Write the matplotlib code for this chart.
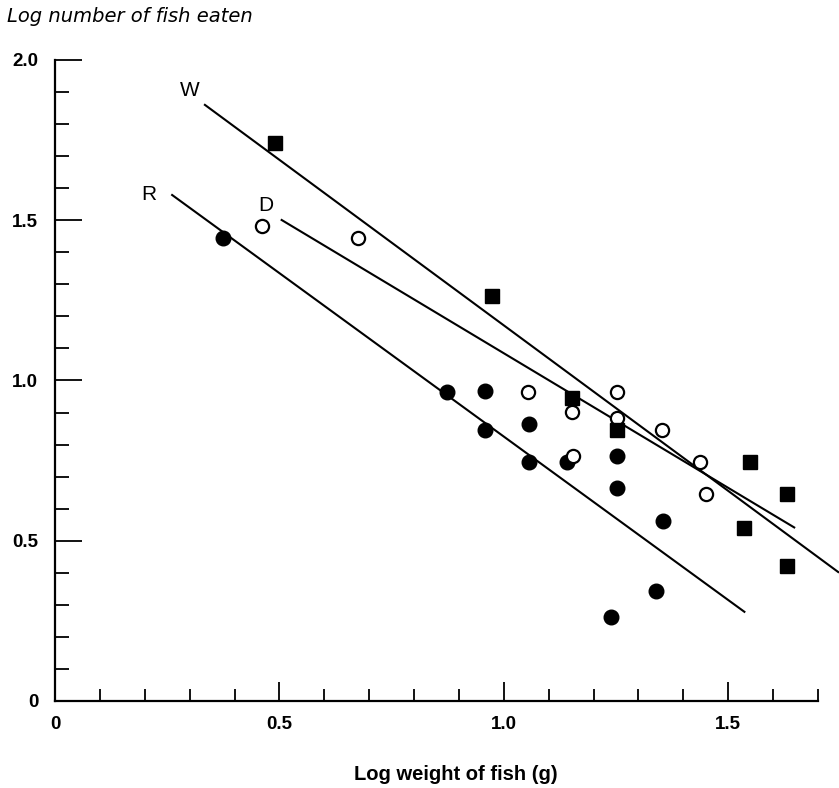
import numpy as np
import matplotlib
matplotlib.use("Agg")
import matplotlib.pyplot as plt

plt.rcParams['font.family'] = ['Liberation Sans', 'DejaVu Sans']

# R (filled circles)
r_x = [0.375, 0.873, 0.957, 0.957, 1.055, 1.055, 1.140, 1.253, 1.253, 1.354, 1.338, 1.239]
r_y = [1.444, 0.965, 0.967, 0.846, 0.864, 0.747, 0.745, 0.764, 0.666, 0.563, 0.344, 0.263]

# D (open circles)
d_x = [0.461, 0.676, 1.053, 1.153, 1.154, 1.253, 1.253, 1.353, 1.437, 1.451]
d_y = [1.482, 1.446, 0.965, 0.903, 0.764, 0.965, 0.882, 0.846, 0.745, 0.646]

# W (filled squares)
w_x = [0.490, 0.973, 1.153, 1.253, 1.549, 1.632, 1.536, 1.630]
w_y = [1.742, 1.263, 0.944, 0.846, 0.745, 0.645, 0.541, 0.422]

# fitted lines: name, slope, intercept, x start, x end, label position
fit_names = ["R", "D", "W"]
fit_slope = [-1.020, -0.840, -1.033]
fit_icpt = [1.845, 1.925, 2.205]
fit_x0 = [0.261, 0.505, 0.334]
fit_x1 = [1.536, 1.647, 1.745]
label_x = [0.210, 0.470, 0.300]
label_y = [1.580, 1.545, 1.905]

fig = plt.figure(figsize=(8.39, 7.88), dpi=100)
ax = fig.add_axes([0.06555, 0.11041, 0.90942, 0.81345])

for name, m, b, xa, xb, lx, ly in zip(fit_names, fit_slope, fit_icpt, fit_x0, fit_x1, label_x, label_y):
    xs = np.array([xa, xb])
    ax.plot(xs, m * xs + b, color="black", lw=1.5, clip_on=False, zorder=2)
    ax.text(lx, ly, name, fontsize=15, ha="center", va="center")

ax.plot(r_x, r_y, "o", color="black", ms=10.5, zorder=3, clip_on=False)
ax.plot(d_x, d_y, "o", mfc="white", mec="black", mew=1.6, ms=9.5, zorder=3, clip_on=False)
ax.plot(w_x, w_y, "s", color="black", ms=9.5, zorder=3, clip_on=False)

ax.set_xlim(0, 1.7)
ax.set_ylim(0, 2.0)
ax.spines["top"].set_visible(False)
ax.spines["right"].set_visible(False)
for s in ["left", "bottom"]:
    ax.spines[s].set_linewidth(1.6)

ax.set_xticks([0, 0.5, 1.0, 1.5])
ax.set_xticklabels(["0", "0.5", "1.0", "1.5"])
ax.set_xticks([0.1, 0.2, 0.3, 0.4, 0.6, 0.7, 0.8, 0.9, 1.1, 1.2, 1.3, 1.4, 1.6, 1.7], minor=True)
ax.set_yticks([0, 0.5, 1.0, 1.5, 2.0])
ax.set_yticklabels(["0", "0.5", "1.0", "1.5", "2.0"])
ax.set_yticks([0.1, 0.2, 0.3, 0.4, 0.6, 0.7, 0.8, 0.9, 1.1, 1.2, 1.3, 1.4, 1.6, 1.7, 1.8, 1.9], minor=True)

ax.tick_params(axis="x", which="major", direction="in", length=13.7, width=1.3, pad=11)
ax.tick_params(axis="x", which="minor", direction="in", length=8.6, width=1.3)
ax.tick_params(axis="y", which="major", direction="in", length=19.4, width=1.3, pad=12)
ax.tick_params(axis="y", which="minor", direction="in", length=10, width=1.3)
for lab in ax.get_xticklabels() + ax.get_yticklabels():
    lab.set_fontsize(13.5)
    lab.set_fontweight("bold")

fig.text(0.0085, 0.979, "Log number of fish eaten", fontsize=14, style="italic",
         family=["DejaVu Sans"], ha="left", va="center")
fig.text(456 / 839, 1 - 775 / 788, "Log weight of fish (g)", fontsize=14.5,
         fontweight="bold", ha="center", va="center")

fig.savefig("out.png", dpi=100)
